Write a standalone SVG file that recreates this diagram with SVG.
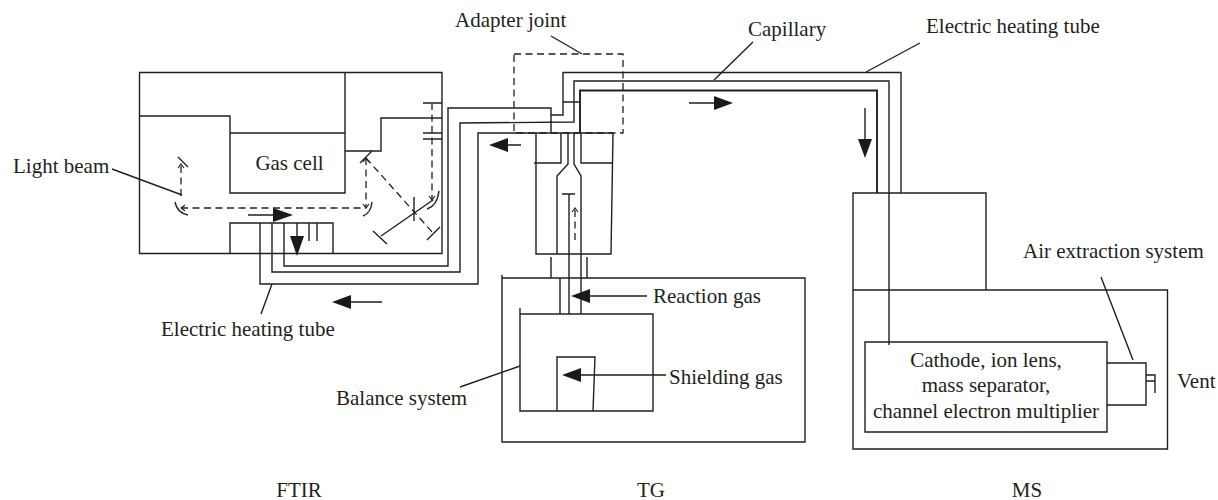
<svg xmlns="http://www.w3.org/2000/svg" width="1218" height="500" viewBox="0 0 1218 500">
<style>
.l{fill:none;stroke:#231f20;stroke-width:1.4}
.b{fill:none;stroke:#231f20;stroke-width:1.9}
.d{fill:none;stroke:#231f20;stroke-width:1.3;stroke-dasharray:7 4.5}
.a{fill:#1a1a1a;stroke:none}
text{font-family:"Liberation Serif","Times New Roman",serif;font-size:21px;fill:#231f20}
.m{text-anchor:middle}
</style>
<defs>
<marker id="o" markerWidth="8" markerHeight="8" refX="5.500" refY="4" orient="auto-start-reverse" markerUnits="userSpaceOnUse"><path d="M1.500 1L5.500 4L1.500 7" fill="none" stroke="#231f20" stroke-width="1.1"/></marker>
</defs>
<rect width="1218" height="500" fill="#fff"/>
<g id="ftir">
<path class="l" d="M139.500 72.500H442V253.500H139.500ZM139.500 116H230V193H345V72.500M230 133H345M345 151H381V118H442M230 253.500V223H333V253.500M309 223V241M317 223V241"/>
<path class="l" d="M178 157L188 167M175 202Q177 213 188 215M372 202Q371 213 363 216M360 163L372 151M427 240L440 227M381 236L433 200M373 231L387 244M414 197V221M423 103H442M423 133H442M423 139H442M439 191Q437 206 427 209"/>
<path class="d" d="M181 196V164" marker-end="url(#o)"/>
<path class="d" d="M181 208H366" marker-start="url(#o)"/>
<path class="d" d="M366 158V208" marker-start="url(#o)" marker-end="url(#o)"/>
<path class="d" d="M366 158L433 233"/>
<path class="d" d="M432 103V200" marker-end="url(#o)"/>
<text x="289.500" y="170" class="m">Gas cell</text>
</g>
<g id="adapter-joint"><rect class="d" x="514" y="54" width="109" height="79"/></g>
<g id="tg">
<path class="l" d="M536 133V254H611L613 133M561 133V163H534M581 133V163H612M568 133V164L557 176V254M574 133V164L581 176V254M562 194H575M551 257V278M587 257V278"/>
<path class="l" d="M502 275V442H805V278H502M520 308V411H653V314H520M560 278V314M581 254V314M569 194V314M557 411V357H595L593 411"/>
<path class="d" d="M575 240V208" marker-end="url(#o)"/>
</g>
<g id="ms">
<path class="l" d="M853 290V193H986V290H853M986 290H1167.500V449H853V290M865 342H1107V432H865ZM1107 363H1146V405H1107M1146 375H1155V393M1146 381H1155"/>
</g>
<g id="connectors">
<path class="l" d="M284 223V266H448V108H551V133M272 223V272H460V123L574 122V81H889V345M260 223V284H478V133H613M551 115H563V72.500H901V193M563 102H580"/>
<path class="b" d="M580 133V90.500H877V193"/>
<path class="l" d="M112 169L182 195M551 36L582 54M714 80L753 42M866 72L920 43M272 284L261 314M520 366L460 387M1101 277L1133 360"/>
<path class="l" d="M248 215H275M297 223V240M689 103H716M508 145H521M351 302H382M590 296H647M581 375H666M865 108V141"/>
<path class="a" d="M273 208L293 215L273 222ZM290 236H304L297 256ZM714 96L733 103L714 110ZM508 138L489 145L508 152ZM351 295L332 302L351 309ZM590 289L571 296L590 303ZM581 368L562 375L581 382ZM858 139H872L865 158Z"/>
</g>
<g id="labels">
<text x="13" y="173">Light beam</text>
<text x="455" y="27">Adapter joint</text>
<text x="748" y="36">Capillary</text>
<text x="926" y="33">Electric heating tube</text>
<text x="161" y="336">Electric heating tube</text>
<text x="653" y="303">Reaction gas</text>
<text x="669" y="384">Shielding gas</text>
<text x="336" y="405">Balance system</text>
<text x="1023" y="258">Air extraction system</text>
<text x="1177" y="388">Vent</text>
<text x="986" y="367" class="m">Cathode, ion lens,</text>
<text x="986" y="392" class="m">mass separator,</text>
<text x="986" y="418" class="m">channel electron multiplier</text>
<text x="299" y="497" class="m">FTIR</text>
<text x="651" y="497" class="m">TG</text>
<text x="1027" y="497" class="m">MS</text>
</g>
</svg>
